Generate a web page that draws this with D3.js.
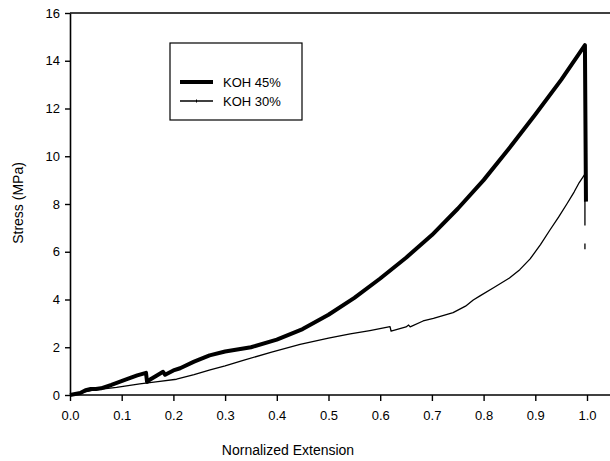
<!DOCTYPE html>
<meta charset="utf-8">
<script src="https://d3js.org/d3.v7.min.js"></script>
<style>
    body { margin: 0; background: #fff; }
    text { font-family: "Liberation Sans", Arial, sans-serif; fill: #000; }
</style>
<body>
    <div id="chart"></div>
</body>
<script>
    // KOH 45% curve (normalized extension, stress in MPa)
    const ext45 = [0, 0.02, 0.03, 0.04, 0.05, 0.06, 0.08, 0.11, 0.13, 0.147, 0.149, 0.155, 0.168, 0.18, 0.184,
        0.2, 0.213, 0.24, 0.27, 0.3, 0.35, 0.4, 0.45, 0.5, 0.55, 0.6, 0.65, 0.7, 0.75, 0.8,
        0.85, 0.9, 0.95, 0.996, 0.998];
    const stress45 = [0, 0.08, 0.2, 0.25, 0.25, 0.28, 0.42, 0.66, 0.82, 0.93, 0.55, 0.65, 0.82, 0.97, 0.85,
        1.03, 1.12, 1.4, 1.66, 1.82, 2.0, 2.32, 2.76, 3.36, 4.07, 4.88, 5.75, 6.7, 7.8, 9.0,
        10.35, 11.75, 13.2, 14.65, 8.1];

    // KOH 30% curve
    const ext30 = [0, 0.045, 0.09, 0.135, 0.17, 0.206, 0.24, 0.271, 0.3, 0.335, 0.39, 0.445, 0.5, 0.542,
        0.58, 0.619, 0.621, 0.65, 0.655, 0.658, 0.683, 0.703, 0.741, 0.765, 0.78, 0.793, 0.82, 0.85,
        0.87, 0.89, 0.91, 0.928, 0.945, 0.961, 0.975, 0.985, 0.996, 0.996];
    const stress30 = [0, 0.2, 0.32, 0.47, 0.56, 0.66, 0.85, 1.05, 1.22, 1.45, 1.8, 2.12, 2.38, 2.56,
        2.7, 2.86, 2.68, 2.85, 2.93, 2.85, 3.1, 3.21, 3.45, 3.72, 3.98, 4.15, 4.5, 4.9,
        5.25, 5.7, 6.3, 6.9, 7.45, 8.0, 8.5, 8.9, 9.25, 7.1];
    // small broken fragment after failure
    const extFrag = [0.996, 0.996];
    const stressFrag = [6.1, 6.35];

    const xTicks = [0, 0.1, 0.2, 0.3, 0.4, 0.5, 0.6, 0.7, 0.8, 0.9, 1.0];
    const yTicks = [0, 2, 4, 6, 8, 10, 12, 14, 16];
    const seriesNames = ["KOH 45%", "KOH 30%"];

    const W = 610, H = 461;
    const svg = d3.select("#chart").append("svg")
        .attr("width", W)
        .attr("height", H);

    const x = d3.scaleLinear().domain([0, 1]).range([70, 587]);
    const y = d3.scaleLinear().domain([0, 16]).range([395, 13]);

    const toPts = (xs, ys) => xs.map((v, i) => [v, ys[i]]);
    const line = d3.line().x(d => x(d[0])).y(d => y(d[1]));

    // frame: top line and x axis line run to the right edge
    const xEnd = x.invert(W);
    svg.append("line")
        .attr("x1", x(0)).attr("x2", x(xEnd))
        .attr("y1", y(16)).attr("y2", y(16))
        .attr("stroke", "#000").attr("stroke-width", 1.6);

    // x axis
    const xAxis = svg.append("g")
        .attr("transform", `translate(0,${y(0)})`)
        .call(d3.axisBottom(x).tickValues(xTicks).tickFormat(d3.format(".1f")).tickSize(6).tickSizeOuter(0));
    xAxis.select(".domain").remove();
    xAxis.selectAll(".tick line").attr("stroke-width", 1.4);
    xAxis.selectAll("text").attr("font-size", 13).attr("dy", "1.25em")
        .style("font-family", "'Liberation Sans', Arial, sans-serif");
    svg.append("line")
        .attr("x1", x(0)).attr("x2", x(xEnd))
        .attr("y1", y(0)).attr("y2", y(0))
        .attr("stroke", "#000").attr("stroke-width", 1.6);

    // y axis
    const yAxis = svg.append("g")
        .attr("transform", `translate(${x(0)},0)`)
        .call(d3.axisLeft(y).tickValues(yTicks).tickSize(5).tickSizeOuter(0));
    yAxis.select(".domain").attr("stroke-width", 1.6);
    yAxis.selectAll(".tick line").attr("stroke-width", 1.4);
    yAxis.selectAll("text").attr("font-size", 13).attr("x", -10)
        .style("font-family", "'Liberation Sans', Arial, sans-serif");

    // axis titles
    svg.append("text")
        .attr("x", 288).attr("y", 455)
        .attr("text-anchor", "middle")
        .attr("font-size", 14)
        .text("Nornalized Extension");

    svg.append("text")
        .attr("transform", "translate(23,203) rotate(-90)")
        .attr("text-anchor", "middle")
        .attr("font-size", 14)
        .text("Stress (MPa)");

    // curves
    svg.append("path")
        .datum(toPts(ext30, stress30))
        .attr("fill", "none").attr("stroke", "#000").attr("stroke-width", 1.3)
        .attr("stroke-linejoin", "round")
        .attr("d", line);
    svg.append("path")
        .datum(toPts(extFrag, stressFrag))
        .attr("fill", "none").attr("stroke", "#000").attr("stroke-width", 1.3)
        .attr("d", line);
    svg.append("path")
        .datum(toPts(ext45, stress45))
        .attr("fill", "none").attr("stroke", "#000").attr("stroke-width", 4)
        .attr("stroke-linejoin", "round")
        .attr("d", line);

    // legend
    const legend = svg.append("g").attr("transform", "translate(170,43)");
    legend.append("rect")
        .attr("width", 132).attr("height", 77)
        .attr("fill", "#fff").attr("stroke", "#000").attr("stroke-width", 1.2);
    const widths = [4, 1.3];
    seriesNames.forEach((name, i) => {
        const ly = 39 + i * 19;
        legend.append("line")
            .attr("x1", 10).attr("x2", 43)
            .attr("y1", ly).attr("y2", ly)
            .attr("stroke", "#000").attr("stroke-width", widths[i]);
        if (i === 1) {
            legend.append("line")
                .attr("x1", 26.5).attr("x2", 26.5)
                .attr("y1", ly - 1.5).attr("y2", ly + 1.5)
                .attr("stroke", "#000").attr("stroke-width", 1);
        }
        legend.append("text")
            .attr("x", 53).attr("y", ly + 5)
            .attr("font-size", 13)
            .text(name);
    });
</script>
